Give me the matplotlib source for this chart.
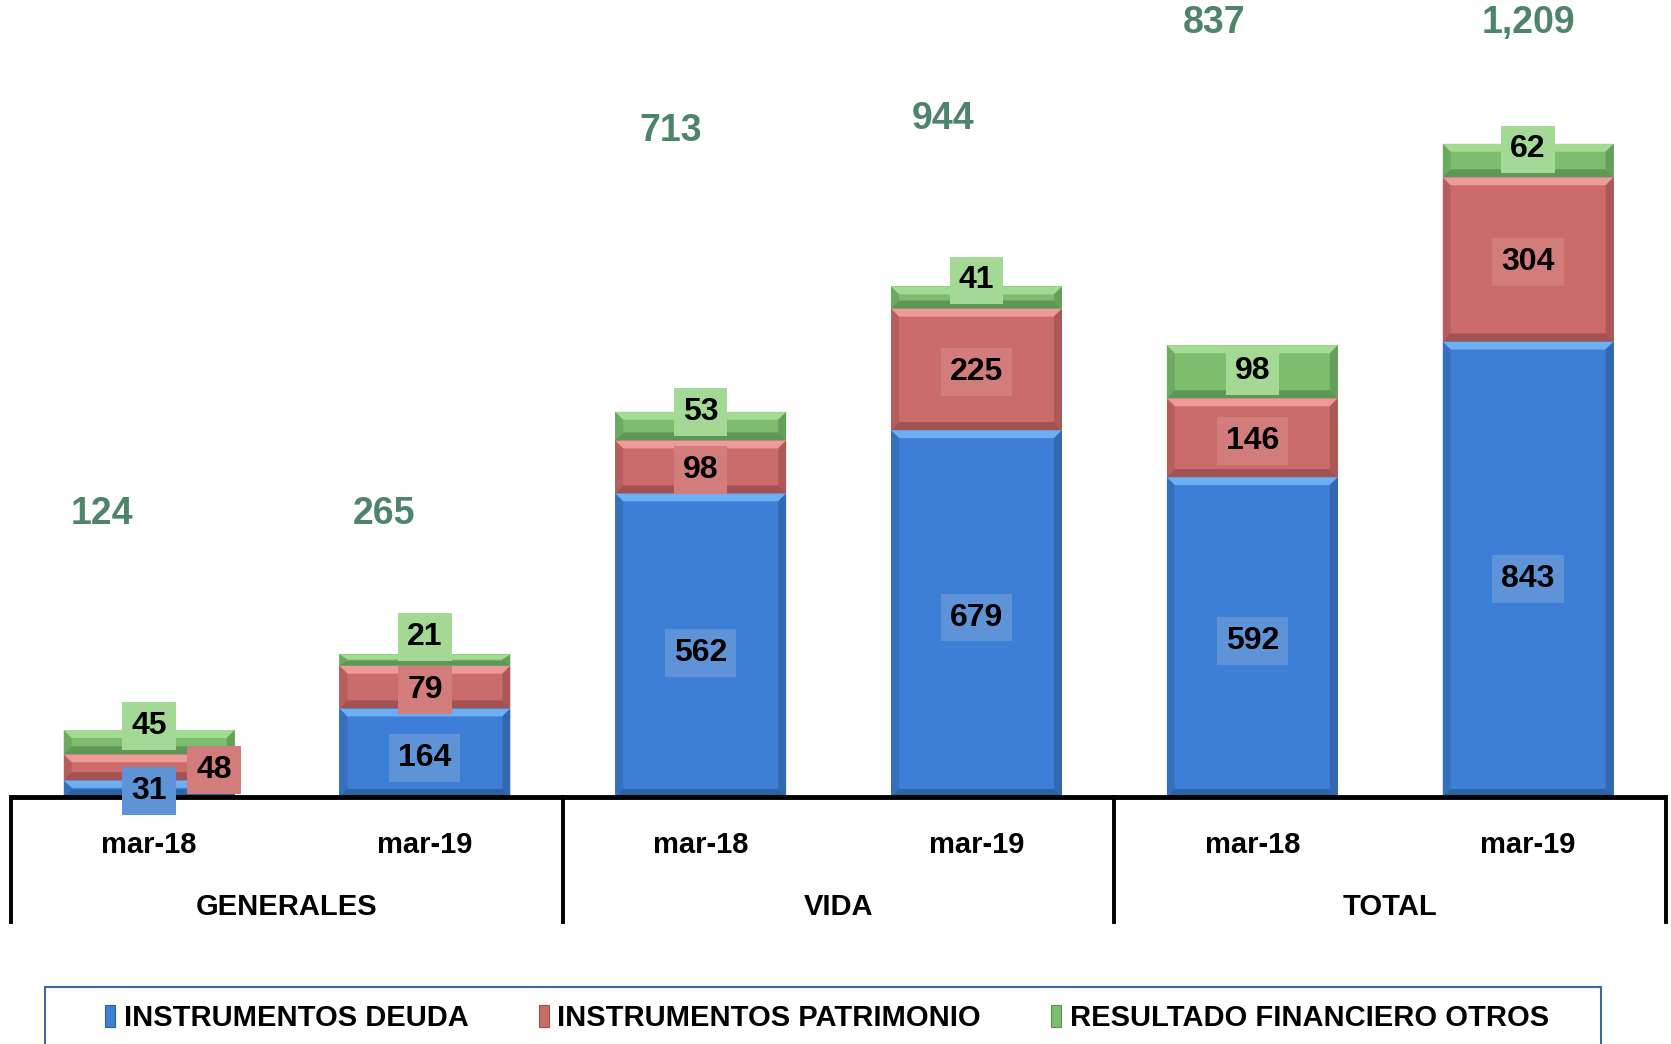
import matplotlib
matplotlib.use("Agg")
import matplotlib.pyplot as plt
import numpy as np
from matplotlib.patches import Polygon, Rectangle, Patch
from matplotlib import transforms

plt.rcParams['font.family'] = ['Liberation Sans', 'DejaVu Sans']
plt.rcParams['font.weight'] = 'bold'

# data
periods = ['mar-18', 'mar-19', 'mar-18', 'mar-19', 'mar-18', 'mar-19']
groups = ['GENERALES', 'VIDA', 'TOTAL']
deuda = [31, 164, 562, 679, 592, 843]
patrimonio = [48, 79, 98, 225, 146, 304]
otros = [45, 21, 53, 41, 98, 62]
totals = ['124', '265', '713', '944', '837', '1,209']
legend_names = ['INSTRUMENTOS DEUDA', 'INSTRUMENTOS PATRIMONIO', 'RESULTADO FINANCIERO OTROS']

# layout of the total labels (data units, offsets from bar centre)
total_dx = [-0.17, -0.15, -0.11, -0.12, -0.14, 0.0]
total_y = [524, 524, 1233, 1254, 1433, 1433]
# label nudges in pixels (x, y up)
green_dy = [16, 23, 14, 17, 1, 11]
red_dx = [65, 0, 0, 0, 0, 0]
blue_dy = [-2, -5, -8, -4, -4, -10]

# colours: body, light, dark, label box
blue = ('#3d7fd6', '#74b4f7', '#2c5f9f', '#5e93d8')
red = ('#cb6b6a', '#f3a09e', '#9e5050', '#d27d7b')
green = ('#7dbd6e', '#a8df98', '#5b9352', '#a3d895')

W, H = 1671, 1044
fig = plt.figure(figsize=(W / 100, H / 100), dpi=100)
ax = fig.add_axes([11.2 / W, 247 / H, (1666 - 11.2) / W, 797 / H])
ax.set_xlim(-0.5, 5.5)
ax.set_ylim(0, 1475)
ax.axis('off')

x = np.arange(len(deuda))
width = 0.62
px_x = 276.0   # pixels per x unit
px_y = 0.540   # pixels per y unit
bx, by = 8 / px_x, 8 / px_y


def bevel(ax, rect, cols):
    x0, y0 = rect.get_x(), rect.get_y()
    w, h = rect.get_width(), rect.get_height()
    x1, y1 = x0 + w, y0 + h
    b = min(by, h / 2.2)
    c_body, c_light, c_dark, _ = cols
    polys = [
        ([(x0, y1), (x1, y1), (x1 - bx, y1 - b), (x0 + bx, y1 - b)], c_light, 0.9),
        ([(x0, y0), (x1, y0), (x1 - bx, y0 + b), (x0 + bx, y0 + b)], c_dark, 0.9),
        ([(x0, y0), (x0 + bx, y0 + b), (x0 + bx, y1 - b), (x0, y1)], c_dark, 0.45),
        ([(x1, y0), (x1 - bx, y0 + b), (x1 - bx, y1 - b), (x1, y1)], c_dark, 0.7),
    ]
    for pts, c, a in polys:
        ax.add_patch(Polygon(pts, closed=True, fc=c, ec='none', alpha=a, zorder=3))


bottom = np.zeros(len(deuda))
series = [(deuda, blue), (patrimonio, red), (otros, green)]
for vals, cols in series:
    bars = ax.bar(x, vals, width, bottom=bottom, color=cols[0], edgecolor='none', zorder=2)
    for r in bars:
        bevel(ax, r, cols)
    bottom = bottom + np.array(vals)

# segment labels
lab_kw = dict(ha='center', va='center', fontsize=23, fontweight='bold', color='black',
              textcoords='offset points', zorder=6)
for i in range(len(x)):
    yc = deuda[i] / 2
    ax.annotate(str(deuda[i]), (x[i], yc), xytext=(0, blue_dy[i] * 0.72), **lab_kw,
                bbox=dict(boxstyle='square,pad=0.28', fc=blue[3], ec='none'))
    yc = deuda[i] + patrimonio[i] / 2
    ax.annotate(str(patrimonio[i]), (x[i], yc), xytext=(red_dx[i] * 0.72, -3 * 0.72), **lab_kw,
                bbox=dict(boxstyle='square,pad=0.28', fc=red[3], ec='none'))
    yc = deuda[i] + patrimonio[i] + otros[i] / 2
    ax.annotate(str(otros[i]), (x[i], yc), xytext=(0, green_dy[i] * 0.72), **lab_kw,
                bbox=dict(boxstyle='square,pad=0.28', fc=green[3], ec='none'))

# totals
for i in range(len(x)):
    ax.text(x[i] + total_dx[i], total_y[i], totals[i], ha='center', va='center',
            fontsize=27, fontweight='bold', color='#4e846a', zorder=6)

# category axis
ax.plot([-0.5, 5.5], [0, 0], color='black', lw=3.5, solid_capstyle='butt', zorder=5, clip_on=False)
trans = transforms.blended_transform_factory(ax.transData, ax.transAxes)
for xb in [-0.5, 1.5, 3.5, 5.5]:
    ax.plot([xb, xb], [0, -0.157], color='black', lw=2.8, transform=trans, clip_on=False, zorder=5)
for i, p in enumerate(periods):
    ax.text(x[i], -0.060, p, transform=trans, ha='center', va='center', fontsize=21, fontweight='bold')
for g, name in enumerate(groups):
    ax.text(2 * g + 0.5, -0.138, name, transform=trans, ha='center', va='center', fontsize=21, fontweight='bold')

# legend
fig.patches.append(Rectangle((45 / W, -0.02), (1601 - 45) / W, (1044 - 987) / H + 0.02,
                             transform=fig.transFigure, fill=False, ec='#41689b', lw=1.5))
handles = [Patch(fc=c[0], ec=c[2], lw=0.8) for c in (blue, red, green)]
fig.legend(handles, legend_names, loc='center', bbox_to_anchor=(827 / W, 1 - 1018 / H),
           ncol=3, frameon=False, handlelength=0.35, handleheight=0.75,
           handletextpad=0.3, columnspacing=2.4, prop={'weight': 'bold', 'size': 21})

fig.savefig('out.png', dpi=100)
